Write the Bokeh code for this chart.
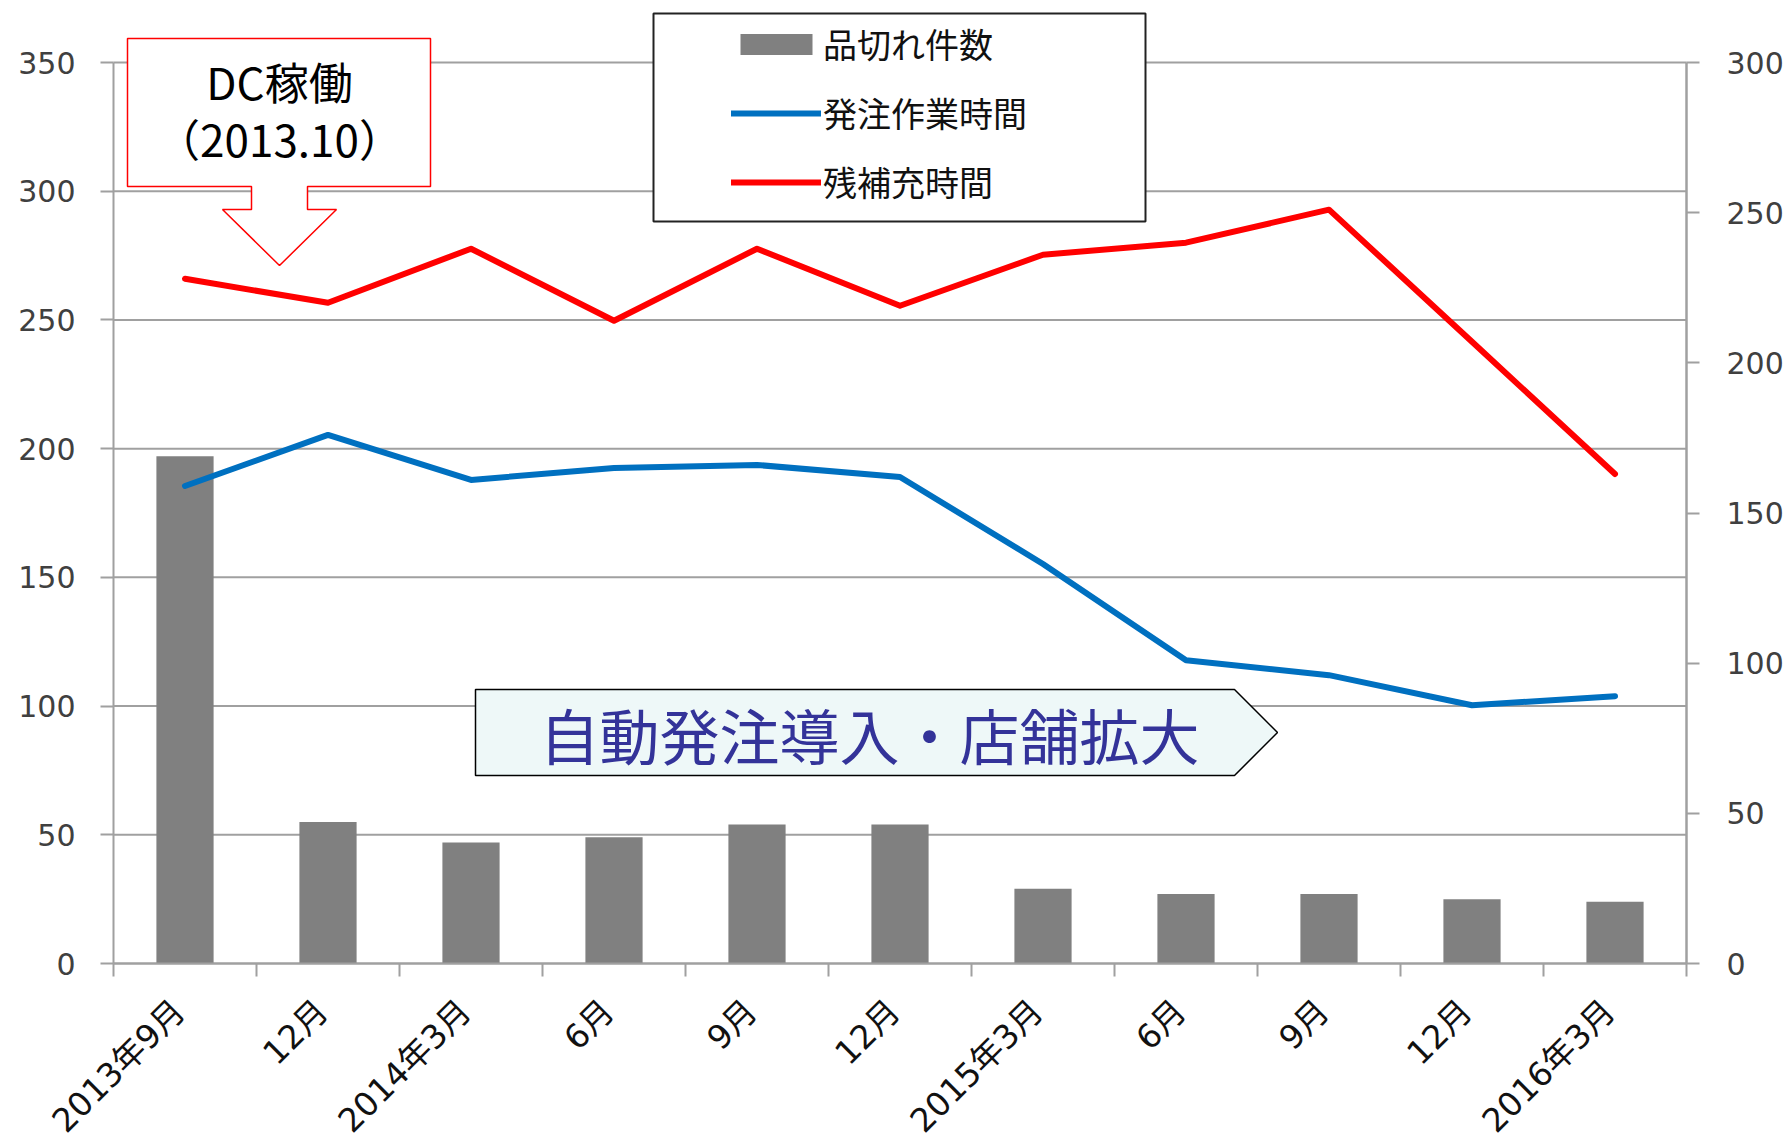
import math
from bokeh.plotting import figure
from bokeh.models import (Range1d, LinearAxis, FixedTicker, Legend, LegendItem,
                          ColumnDataSource, LabelSet)
from bokeh.core.properties import value
from bokeh.embed import file_html
from bokeh.resources import INLINE

# ---------------- data ----------------
categories = ["2013年9月", "12月", "2014年3月", "6月", "9月", "12月",
              "2015年3月", "6月", "9月", "12月", "2016年3月"]
stockouts = [197, 55, 47, 49, 54, 54, 29, 27, 27, 25, 24]                # 品切れ件数 (left axis)
order_hours = [159, 176, 161, 165, 166, 162, 133, 101, 96, 86, 89]        # 発注作業時間 (right axis)
replenish_hours = [228, 220, 238, 214, 238, 219, 236, 240, 251, 207, 163]  # 残補充時間 (right axis)
left_ticks = [0, 50, 100, 150, 200, 250, 300, 350]
right_ticks = [0, 50, 100, 150, 200, 250, 300]
series_names = ["品切れ件数", "発注作業時間", "残補充時間"]
callout_lines = ["DC稼働", "（2013.10）"]
banner_text = "自動発注導入・店舗拡大"

# ---------------- layout (page pixels) ----------------
W, H = 1792, 1144
AX_L, AX_R = 113, 1686        # left / right value axes
TOP_PX, ZERO_PX = 62, 963     # where 350 and 0 of the left axis sit
LEFT_MAX = left_ticks[-1]
RIGHT_MAX = right_ticks[-1]
N = len(categories)
xs = list(range(N))
CAT_PX = (AX_R - AX_L) / N
K = (ZERO_PX - TOP_PX) / LEFT_MAX
# the frame covers the whole canvas so that annotations are never clipped
X_LO = -0.5 - AX_L / CAT_PX
X_HI = N - 0.5 + (W - AX_R) / CAT_PX
Y_HI = LEFT_MAX + TOP_PX / K
Y_LO = -(H - ZERO_PX) / K
RS = RIGHT_MAX / LEFT_MAX

GRID = "#a0a0a0"
FONT_CJK = "Noto Sans CJK JP"
FONT_MEI = "DejaVu Sans, Noto Sans CJK JP"


def dx(px):   # page px -> data x
    return (px - AX_L) / CAT_PX - 0.5


def dy(py):   # page px -> data y (left axis)
    return (ZERO_PX - py) / K


p = figure(width=W, height=H, output_backend="svg", toolbar_location=None,
           title=None, x_range=Range1d(X_LO, X_HI), y_range=Range1d(Y_LO, Y_HI),
           min_border_left=0, min_border_right=0, min_border_top=0,
           min_border_bottom=0, outline_line_color=None)
p.extra_y_ranges = {"right": Range1d(Y_LO * RS, Y_HI * RS)}

# grid lines (between the two value axes)
p.xgrid.visible = False
p.ygrid.visible = False
p.segment(x0=[-0.5] * len(left_ticks), x1=[N - 0.5] * len(left_ticks),
          y0=left_ticks, y1=left_ticks, line_color=GRID, line_width=2)

# left axis
ya = p.yaxis[0]
ya.fixed_location = -0.5
ya.ticker = FixedTicker(ticks=left_ticks)
ya.bounds = (0, LEFT_MAX)
ya.axis_line_color = GRID
ya.axis_line_width = 2
ya.major_tick_line_color = GRID
ya.major_tick_line_width = 2
ya.major_tick_out = 13
ya.major_tick_in = 0
ya.minor_tick_line_color = None
ya.major_label_text_font = "DejaVu Sans"
ya.major_label_text_font_size = "30px"
ya.major_label_text_color = "#404040"
ya.major_label_standoff = 25

# right axis
ra = LinearAxis(y_range_name="right", ticker=FixedTicker(ticks=right_ticks))
ra.fixed_location = N - 0.5
ra.bounds = (0, RIGHT_MAX)
ra.axis_line_color = GRID
ra.axis_line_width = 2.5
ra.major_tick_line_color = GRID
ra.major_tick_line_width = 2
ra.major_tick_out = 13
ra.major_tick_in = 0
ra.minor_tick_line_color = None
ra.major_label_text_font = "DejaVu Sans"
ra.major_label_text_font_size = "30px"
ra.major_label_text_color = "#404040"
ra.major_label_standoff = 27
p.add_layout(ra, "right")

# bottom axis: line at 0, ticks at category boundaries
xa = p.xaxis[0]
xa.fixed_location = 0
xa.ticker = FixedTicker(ticks=[], minor_ticks=[i - 0.5 for i in range(N + 1)])
xa.bounds = (-0.5, N - 0.5)
xa.axis_line_color = GRID
xa.axis_line_width = 2
xa.major_tick_out = 0
xa.major_tick_in = 0
xa.minor_tick_out = 13
xa.minor_tick_in = 0
xa.minor_tick_line_color = GRID
xa.minor_tick_line_width = 2
xa.major_label_standoff = 0
xa.major_label_text_font_size = "0px"

# data
src = ColumnDataSource(dict(x=xs, stock=stockouts, order=order_hours, rep=replenish_hours,
                            cat=categories, lx=[x - 6 / CAT_PX for x in xs],
                            ly=[dy(1005)] * N))
bars = p.vbar(x="x", top="stock", width=0.4, source=src, fill_color="#808080", line_color=None)
blue = p.line("x", "order", source=src, y_range_name="right", line_color="#0070c0",
              line_width=6, line_join="round", line_cap="round")
red = p.line("x", "rep", source=src, y_range_name="right", line_color="#ff0000",
             line_width=6, line_join="round", line_cap="round")

# category labels, rotated 45 degrees
p.add_layout(LabelSet(x="lx", y="ly", text="cat", source=src, angle=math.pi / 4,
                      text_font=value(FONT_MEI), text_font_size="33px",
                      text_color="#111111", text_align="right", text_baseline="middle"))

# callout "DC稼働"
cx_pts = [127, 430, 430, 307, 307, 336, 279, 222, 251, 251, 127]
cy_pts = [38, 38, 186, 186, 209, 209, 265, 209, 209, 186, 186]
p.patch([dx(v) for v in cx_pts], [dy(v) for v in cy_pts], fill_color="white",
        line_color="#ff0000", line_width=1.5)
p.text(x=[dx(279), dx(279)], y=[dy(80), dy(137)], text=callout_lines,
       text_font=value(FONT_CJK), text_font_size="44px", text_color="#000000",
       text_align="center", text_baseline="middle")

# banner
bx_pts = [475, 1234, 1277, 1234, 475]
by_pts = [689, 689, 732, 775, 775]
p.patch([dx(v) for v in bx_pts], [dy(v) for v in by_pts], fill_color="#eef8f8",
        line_color="#000000", line_width=1.5)
p.text(x=[dx(869)], y=[dy(733)], text=[banner_text], text_font=value(FONT_CJK),
       text_font_size="60px", text_color="#333399", text_align="center",
       text_baseline="middle")

# legend frame
p.quad(left=[dx(653)], right=[dx(1145)], top=[dy(13)], bottom=[dy(221)],
       fill_color="white", line_color="#222222", line_width=2)

legend = Legend(items=[LegendItem(label=series_names[0], renderers=[bars]),
                       LegendItem(label=series_names[1], renderers=[blue]),
                       LegendItem(label=series_names[2], renderers=[red])],
                location=(731, H - 206),
                border_line_color=None, background_fill_alpha=0, padding=0, margin=0,
                glyph_width=90, glyph_height=26, label_height=26, spacing=20,
                label_standoff=2, label_text_font=FONT_CJK, label_text_font_size="34px",
                label_text_color="#111111")
p.add_layout(legend)

open("out.html", "w").write(file_html(p, INLINE))
